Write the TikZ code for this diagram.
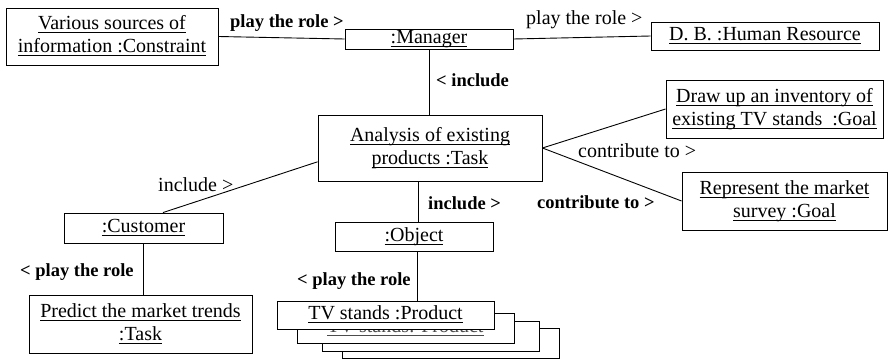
\documentclass[tikz,border=0pt]{standalone}
\usepackage{amsmath}
\usepackage{fontspec}
\setmainfont{Liberation Serif}
\newcommand{\objname}[1]{\underline{\smash[b]{#1}}}

\begin{document}
\begin{tikzpicture}[
  x=1pt, y=-1pt,
  object/.style={draw, line width=0.9pt, fill=white, inner sep=0pt, align=center, font=\fontsize{20}{23}\selectfont},
  role/.style={anchor=base west, inner sep=0pt, font=\fontsize{20}{24}\selectfont},
  boldrole/.style={role, font=\bfseries\fontsize{18.5}{22}\selectfont},
  link/.style={line width=0.9pt}
]
  \useasboundingbox (0,0) rectangle (890,361);

  % Objects
  \node[object, minimum width=212pt, minimum height=57pt] (src) at (112,36.5) {\objname{Various sources of}\\\objname{information :Constraint}};
  \node[object, minimum width=168pt, minimum height=20pt] (mgr) at (429,39) {\objname{:Manager}};
  \node[object, minimum width=228pt, minimum height=28pt] (db) at (765,36) {\objname{D. B. :Human Resource}};
  \node[object, minimum width=224pt, minimum height=66pt] (ana) at (430,148) {\objname{Analysis of existing}\\\objname{products :Task}};
  \node[object, minimum width=217pt, minimum height=58pt] (inv) at (774.5,109) {\objname{Draw up an inventory of}\\\objname{existing TV stands~ :Goal}};
  \node[object, minimum width=205pt, minimum height=58pt] (rep) at (784.5,201) {\objname{Represent the market}\\\objname{survey :Goal}};
  \node[object, minimum width=159pt, minimum height=30pt] (cus) at (143.5,228) {\objname{:Customer}};
  \node[object, minimum width=158pt, minimum height=29pt] (objb) at (414,236.5) {\objname{:Object}};
  \node[object, minimum width=223pt, minimum height=58pt] (pre) at (140.5,324) {\objname{Predict the market trends}\\\objname{:Task}};

  % Stack of products, back to front
  \foreach \k/\cx/\cy in {4/450.5/343, 3/430.5/336} {
    \node[object, minimum width=217pt, minimum height=30pt] (tv\k) at (\cx,\cy) {};
  }
  \node[object, minimum width=217pt, minimum height=30pt, text=black!70] (tv2) at (405.5,328) {\objname{TV stands: Product}};
  \node[object, minimum width=217pt, minimum height=28pt] (tv1) at (385.5,315) {\objname{TV stands :Product}};

  % Links
  \draw[link] (src.east) -- (mgr.west);
  \draw[link] (mgr.east) -- (db.west);
  \draw[link] (mgr.south) -- (mgr.south |- ana.north);
  \draw[link] (ana.east) -- (inv.west);
  \draw[link] (ana.east) -- (rep.west);
  \draw[link] (ana.187) -- ([xshift=19.5pt]cus.north);
  \draw[link] ([xshift=4pt]objb.north) -- ([xshift=4pt]objb.north |- ana.south);
  \draw[link] (cus.south) -- (cus.south |- pre.north);
  \draw[link] ([xshift=3pt]objb.south) -- ([xshift=3pt]objb.south |- tv1.north);

  % Roles
  \node[boldrole] (r1) at (230,28) {play the role >};
  \node[role] (r2) at (526,25) {play the role >};
  \node[boldrole] (r3) at (436,86) {< include};
  \node[role] (r4) at (158,191) {include >};
  \node[boldrole] (r5) at (428,209) {include >};
  \node[role] (r6) at (578,157) {contribute to >};
  \node[boldrole] (r7) at (537,208) {contribute to >};
  \node[boldrole] (r8) at (20,276) {< play the role};
  \node[boldrole] (r9) at (297,285) {< play the role};
\end{tikzpicture}
\end{document}
